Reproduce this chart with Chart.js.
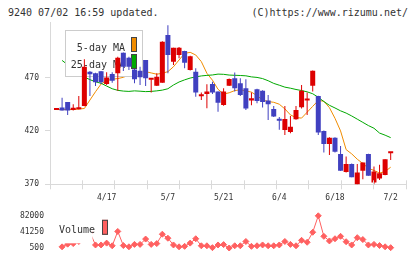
<!DOCTYPE html>
<html>
<head>
<meta charset="utf-8">
<script src="https://cdn.jsdelivr.net/npm/chart.js@4.4.1/dist/chart.umd.min.js"></script>
<style>
  body { margin: 0; background: #fff; }
  #wrap { position: relative; width: 420px; height: 259px; overflow: hidden; font-family: "DejaVu Sans Mono", monospace; color: #333; }
  #priceChart { position: absolute; left: 0; top: 0; }
  #volumeChart { position: absolute; left: 0; top: 205px; }
  .head { position: absolute; top: 8px; font-size: 10px; line-height: 10px; white-space: nowrap; }
</style>
</head>
<body>
<div id="wrap">
  <div class="head" style="left:8px">9240 07/02 16:59 updated.</div>
  <div class="head" style="right:12px">(C)https://www.rizumu.net/</div>
  <canvas id="priceChart" width="420" height="205"></canvas>
  <canvas id="volumeChart" width="420" height="54"></canvas>
</div>
<script>
// date labels sit on these trading-day indexes (61 days, 4/4 .. 7/2)
const dateLabels = ["4/17", "5/7", "5/21", "6/4", "6/18", "7/2"];
const dateIndex = [9, 20, 30, 40, 50, 60];
const priceTicks = [370, 420, 470];
const volumeTicks = [500, 41250, 82000];

// daily candles
const openP = [439.5, 442, 447, 439.6, 440.3, 443.3, 475.5, 474, 475.8, 464,
  473.3, 474, 493.2, 488.6, 477.6, 476.4, 486.4, 467.8, 462.4, 465.2,
  509.8, 484.8, 491, 494.8, 477, 475.5, 452.4, 454.6, 463.9, 456.8,
  444.2, 462.4, 469.3, 464.6, 460, 448.4, 459.1, 457.5, 448.4, 440.6,
  431, 420.9, 419, 430.9, 442.1, 448.4, 462.4, 452.7, 420, 407.8,
  413.7, 398.4, 381.6, 389, 369.5, 382.8, 398.4, 371.6, 375.4, 378.8, 399.1];
const highP = [440, 451, 447, 445, 452.7, 487, 476, 474.5, 476, 475,
  475, 489.5, 493.5, 489.5, 478, 480, 486.4, 468.5, 474, 504,
  519, 498, 498.5, 495, 490.5, 478.6, 456, 463.7, 466, 457,
  460, 469, 474.6, 469.3, 468.4, 456, 459.5, 458, 453.7, 443.4,
  433, 443.4, 434, 443.4, 463, 456, 476.5, 453, 420.5, 414,
  414, 405.9, 396, 389.5, 389, 390.5, 398.5, 386.6, 388.2, 393.5, 400.3];
const lowP = [439.5, 439, 435, 439, 440, 443, 452.7, 462, 464, 463,
  465, 457.7, 476, 477, 464.7, 463, 462, 456, 462, 465,
  474, 481.7, 488, 478.6, 476.5, 452, 449, 441.2, 454.6, 438,
  443.5, 462, 456.8, 452.7, 439.6, 444, 445.9, 442, 430.2, 433,
  421, 416.2, 417.8, 430.5, 441, 435, 456.8, 416.2, 399.7, 397.5,
  399.7, 382.5, 381, 376.6, 369.5, 374.7, 378, 369.5, 374, 378.5, 392.8];
const closeP = [440, 439, 439, 441.8, 442, 480, 473, 465.5, 465.5, 470,
  467, 488.6, 480, 480, 468.4, 470.2, 469.3, 468.4, 470.8, 503.5,
  491, 497.9, 498, 483.9, 490, 456, 452.7, 456.8, 456, 446.3,
  456.8, 468.7, 460, 453.7, 441, 450.5, 448.1, 447, 444.9, 433.5,
  429.6, 431.2, 424, 439.6, 457.7, 449.9, 476.4, 418.4, 407.8, 413.7,
  400.6, 382.8, 389.1, 376.6, 381, 390.3, 378.1, 381.9, 380.3, 393.4, 400.3];

// moving averages as drawn on the chart
const ma5 = [440, 440, 440, 440, 440.5, 441, 448.9, 456.7, 463.9, 467.1,
  468.4, 469, 470.2, 472.4, 475.5, 477, 475.5, 474.3, 473.1, 474,
  475.5, 480.1, 486.4, 492.6, 493.6, 491.1, 484.9, 474, 467.5, 459,
  454.5, 455.7, 457.8, 458.5, 457.5, 456.3, 453.1, 449, 447.5, 446.8,
  445, 440.6, 435, 432.5, 432, 437.5, 443, 448.5, 447.8, 441.8,
  431.8, 420, 402.5, 398.5, 393.5, 389.5, 385, 383, 380.5, 382, 386];
const ma25 = [null, 486, 482, 478, 474, 470.5, 468, 466, 464.6, 462,
  459.5, 458, 457.3, 457, 457.5, 457.2, 456.8, 457, 457.5, 458.2,
  459.5, 463, 465.8, 467.8, 469.5, 470.6, 471.5, 472, 472.4, 473.2,
  473, 472.3, 472.1, 471.9, 471.6, 470.6, 470.1, 469, 467, 464.5,
  462.8, 461, 460, 458.8, 457.8, 456.6, 454.8, 451.5, 447.5, 444,
  441.5, 438.8, 436.7, 434, 431, 428, 425, 422.5, 418, 416, 413.7];

const volume = [null, 4000, 10700, 12100, 17400, 60000, 40000, 8650, 8650, 13300,
  6600, 42700, 7200, 4000, 10100, 10100, 23500, 10100, 12100, 35700,
  25600, 8650, 4000, 5200, 13300, 24300, 6600, 6600, 1900, 8650,
  9500, 1000, 6600, 6600, 17400, 5200, 6600, 8650, 6600, 6600,
  8650, 17400, 10100, 6600, 20300, 15400, 40600, 82000, 30400, 18800,
  24300, 30400, 16800, 8650, 27000, 22300, 8650, 10100, 7200, 4000, 1900];

const UP = '#dd0000';
const DOWN = '#4040c0';
const ORANGE = '#f08c00';
const GREEN = '#00a800';
const VOL = '#ff6060';
const GRID = '#d9d9d9';
const TEXT = '#333333';
const mono = 'DejaVu Sans Mono';
const xMin = -1.17, xMax = 62.75;

const candleColor = openP.map((o, i) => closeP[i] >= o ? UP : DOWN);
const pts = arr => arr.map((v, i) => ({ x: i, y: v }));

// legend box goes under the candles but over the MA lines
const priceLegend = {
  id: 'priceLegend',
  beforeDatasetDraw(chart, args) {
    if (args.index !== 2) return;
    const ctx = chart.ctx;
    const a = chart.chartArea;
    const bx = a.left + 15, by = a.top + 8;
    ctx.save();
    ctx.fillStyle = '#fff';
    ctx.fillRect(bx, by, 78, 47);
    ctx.strokeStyle = '#cccccc';
    ctx.lineWidth = 1;
    ctx.strokeRect(bx + 0.5, by + 0.5, 77, 46);
    ctx.font = '10px "' + mono + '"';
    ctx.fillStyle = TEXT;
    ctx.textAlign = 'right';
    ctx.fillText('5-day MA', bx + 60, by + 20.5);
    ctx.fillText('25-day MA', bx + 60, by + 37.5);
    [[ORANGE, by + 7], [GREEN, by + 24]].forEach(([c, y]) => {
      ctx.fillStyle = c;
      ctx.fillRect(bx + 66, y, 6, 15);
      ctx.strokeStyle = '#444';
      ctx.strokeRect(bx + 66.5, y + 0.5, 5, 14);
    });
    ctx.restore();
  }
};

// short tick marks across the time axis
const axisMarks = {
  id: 'axisMarks',
  afterDraw(chart) {
    const { ctx, chartArea: a } = chart;
    ctx.save();
    ctx.strokeStyle = GRID;
    ctx.lineWidth = 1;
    for (let i = 0; i <= 11; i++) {
      const x = Math.round(a.left + i * (a.right - a.left) / 11 - 0.5) + 0.5;
      ctx.beginPath();
      ctx.moveTo(x, a.bottom - 4);
      ctx.lineTo(x, a.bottom + 5);
      ctx.stroke();
    }
    ctx.restore();
  }
};

new Chart(document.getElementById('priceChart'), {
  type: 'bar',
  data: {
    datasets: [
      { type: 'line', data: pts(ma5), borderColor: ORANGE, borderWidth: 1, pointRadius: 0, order: 3 },
      { type: 'line', data: pts(ma25), borderColor: GREEN, borderWidth: 1, pointRadius: 0, order: 2 },
      {
        data: lowP.map((l, i) => ({ x: i, y: [l, highP[i]] })),
        backgroundColor: candleColor, barThickness: 1, minBarLength: 1,
        grouped: false, inflateAmount: 0, order: 1
      },
      {
        data: openP.map((o, i) => ({ x: i, y: [o, closeP[i]] })),
        backgroundColor: candleColor, barThickness: 5, minBarLength: 2,
        grouped: false, inflateAmount: 0, order: 0
      }
    ]
  },
  options: {
    responsive: false,
    animation: false,
    devicePixelRatio: 1,
    layout: { padding: { top: 22, right: 14, left: 0, bottom: 0 } },
    plugins: { legend: { display: false }, tooltip: { enabled: false } },
    scales: {
      x: {
        type: 'linear', min: xMin, max: xMax, offset: false,
        grid: { display: false, drawTicks: false },
        border: { display: true, color: GRID },
        afterBuildTicks: s => { s.ticks = dateIndex.map(v => ({ value: v })); },
        afterFit: s => { s.height = 20.7; },
        ticks: {
          autoSkip: false, maxRotation: 0, padding: 9, color: TEXT,
          font: { family: mono, size: 8 },
          callback: v => dateLabels[dateIndex.indexOf(v)]
        }
      },
      y: {
        min: 370, max: 522,
        afterBuildTicks: s => { s.ticks = priceTicks.map(v => ({ value: v })); },
        afterFit: s => { s.width = 50; },
        grid: { drawOnChartArea: false, tickLength: 5, color: GRID },
        border: { color: GRID },
        ticks: { padding: 6, color: TEXT, font: { family: mono, size: 8 }, callback: v => String(v) }
      }
    }
  },
  plugins: [priceLegend, axisMarks]
});

// volume legend covers the first part of the line
const volumeLegend = {
  id: 'volumeLegend',
  afterDatasetsDraw(chart) {
    const ctx = chart.ctx;
    const a = chart.chartArea;
    ctx.save();
    ctx.fillStyle = '#fff';
    ctx.fillRect(a.left + 5, a.top + 1, 37.5, 26.5);
    ctx.font = '10px "' + mono + '"';
    ctx.fillStyle = TEXT;
    ctx.textAlign = 'left';
    ctx.fillText('Volume', a.left + 9, a.top + 17.5);
    ctx.fillStyle = VOL;
    ctx.fillRect(a.left + 52, a.top + 4, 6, 15);
    ctx.strokeStyle = '#444';
    ctx.lineWidth = 1;
    ctx.strokeRect(a.left + 52.5, a.top + 4.5, 5, 14);
    ctx.restore();
  }
};

new Chart(document.getElementById('volumeChart'), {
  type: 'line',
  data: {
    datasets: [{
      data: pts(volume),
      borderColor: VOL, backgroundColor: VOL, borderWidth: 1,
      pointStyle: 'rectRot', pointRadius: 3, pointBorderWidth: 1,
      pointBackgroundColor: VOL, pointBorderColor: VOL,
      spanGaps: false, clip: 8
    }]
  },
  options: {
    responsive: false,
    animation: false,
    devicePixelRatio: 1,
    layout: { padding: { top: 4, right: 14, left: 0, bottom: 10 } },
    plugins: { legend: { display: false }, tooltip: { enabled: false } },
    scales: {
      x: { type: 'linear', min: xMin, max: xMax, display: false },
      y: {
        min: 500, max: 82000,
        afterBuildTicks: s => { s.ticks = volumeTicks.map(v => ({ value: v })); },
        afterFit: s => { s.width = 50; },
        grid: { display: false, drawTicks: false },
        border: { display: false },
        ticks: { padding: 6, color: TEXT, font: { family: mono, size: 8 }, callback: v => String(v) }
      }
    }
  },
  plugins: [volumeLegend]
});
</script>
</body>
</html>
